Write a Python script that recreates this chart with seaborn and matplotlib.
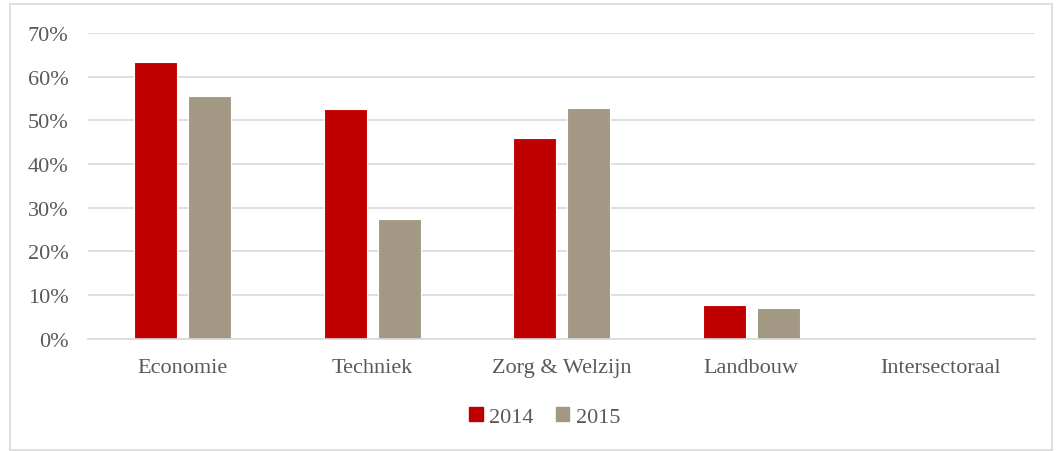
import pandas as pd
import matplotlib
matplotlib.use("Agg")
import matplotlib.pyplot as plt
import seaborn as sns
from matplotlib.ticker import PercentFormatter
from matplotlib.patches import Rectangle, Patch

# data
sectors = ["Economie", "Techniek", "Zorg & Welzijn", "Landbouw", "Intersectoraal"]
share_2014 = [0.634, 0.525, 0.459, 0.077, 0.0]
share_2015 = [0.556, 0.274, 0.528, 0.070, 0.0]
years = ["2014", "2015"]

df = pd.DataFrame({
    "sector": sectors * 2,
    "share": share_2014 + share_2015,
    "year": [years[0]] * len(sectors) + [years[1]] * len(sectors),
})

sns.set_style("white")
plt.rcParams['font.family'] = ['Liberation Serif', 'DejaVu Serif']

colors = {"2014": "#C00000", "2015": "#A29883"}
txt = "#595959"

fig = plt.figure(figsize=(10.62, 4.52), dpi=100)
ax = fig.add_axes([0.083, 0.248, 0.892, 0.677])

sns.barplot(data=df, x="sector", y="share", hue="year", palette=colors,
            saturation=1, width=0.57, gap=0.2, edgecolor="white",
            linewidth=0.8, legend=False, ax=ax)

ax.set_ylim(0, 0.70)
ax.set_yticks([i / 10 for i in range(8)])
ax.yaxis.set_major_formatter(PercentFormatter(1.0, decimals=0))
ax.grid(axis="y", color="#D9D9D9", linewidth=1.2)
ax.set_axisbelow(True)
for s in ["top", "right", "left"]:
    ax.spines[s].set_visible(False)
ax.spines["bottom"].set_color("#D9D9D9")
ax.spines["bottom"].set_linewidth(1.2)
ax.set_xlabel("")
ax.set_ylabel("")
ax.tick_params(axis="both", length=0, labelsize=16, labelcolor=txt)
ax.tick_params(axis="x", pad=14)
ax.tick_params(axis="y", pad=14)

handles = [Patch(color=colors[y], label=y) for y in years]
leg = fig.legend(handles=handles, loc="center", bbox_to_anchor=(0.513, 0.075),
                 ncol=2, frameon=False, fontsize=16, handlelength=0.6,
                 handleheight=0.6, handletextpad=0.3, columnspacing=1.0)
for t in leg.get_texts():
    t.set_color(txt)

fig.patches.append(Rectangle((0.009, 0.003), 0.982, 0.985, transform=fig.transFigure,
                             fill=False, edgecolor="#D9D9D9", linewidth=1.2))

fig.savefig("out.png", dpi=100)
